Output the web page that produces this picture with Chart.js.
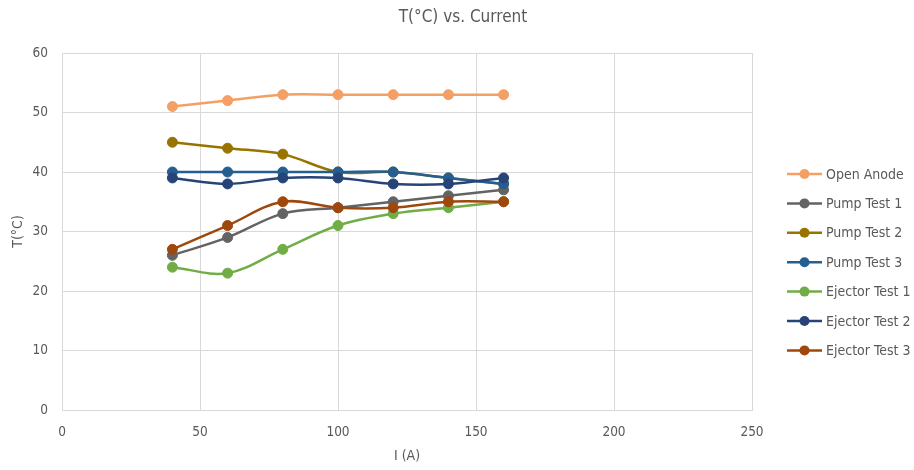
<!DOCTYPE html>
<html><head><meta charset="utf-8">
<script src="https://cdn.jsdelivr.net/npm/chart.js@4"></script>
<style>html,body{margin:0;padding:0;background:#fff}#wrap{width:914px;height:470px}</style>
</head><body><div id="wrap"><canvas id="c" width="914" height="470"></canvas></div>
<script>
const current = [40, 60, 80, 100, 120, 140, 160];
const openAnode   = [51, 52, 53, 53, 53, 53, 53];
const pumpTest1   = [26, 29, 33, 34, 35, 36, 37];
const pumpTest2   = [45, 44, 43, 40, 40, 39, 38];
const pumpTest3   = [40, 40, 40, 40, 40, 39, 38];
const ejectorTest1 = [24, 23, 27, 31, 33, 34, 35];
const ejectorTest2 = [39, 38, 39, 39, 38, 38, 39];
const ejectorTest3 = [27, 31, 35, 34, 34, 35, 35];
const seriesNames = ["Open Anode","Pump Test 1","Pump Test 2","Pump Test 3","Ejector Test 1","Ejector Test 2","Ejector Test 3"];
const seriesValues = [openAnode,pumpTest1,pumpTest2,pumpTest3,ejectorTest1,ejectorTest2,ejectorTest3];
const colors = ["#F4A064","#636363","#997300","#255E91","#70AD47","#264478","#9E480E"];
const FONT = "'DejaVu Sans Condensed', 'Liberation Sans', Arial, sans-serif";
const TXT = "#595959";

const datasets = seriesNames.map((n,i)=>({
  label:n,
  data: current.map((x,j)=>({x:x,y:seriesValues[i][j]})),
  borderColor: colors[i], backgroundColor: colors[i],
  pointBackgroundColor: colors[i], pointBorderColor: colors[i],
  pointRadius: 5, pointBorderWidth: 1, borderWidth: 2.5,
  tension: 0.35, showLine: true, fill:false,
  order: seriesNames.length - i
}));

const overlay = {
  id:'overlay',
  afterDraw(chart){
    const ctx = chart.ctx;
    ctx.save();
    ctx.fillStyle = TXT;
    ctx.font = "17px " + FONT;
    ctx.textAlign = "center"; ctx.textBaseline = "middle";
    ctx.fillText("T(°C) vs. Current", 463, 18);
    ctx.font = "14px " + FONT;
    ctx.textAlign = "left";
    seriesNames.forEach((n,i)=>{
      const y = 174 + i*29.4;
      ctx.strokeStyle = colors[i]; ctx.lineWidth = 2.5;
      ctx.beginPath(); ctx.moveTo(787,y); ctx.lineTo(822,y); ctx.stroke();
      ctx.fillStyle = colors[i];
      ctx.beginPath(); ctx.arc(804.5,y,5,0,Math.PI*2); ctx.fill();
      ctx.fillStyle = TXT;
      ctx.fillText(n, 826, y+1);
    });
    ctx.restore();
  }
};

new Chart(document.getElementById('c'), {
  type:'scatter',
  data:{datasets},
  options:{
    responsive:false, animation:false,
    layout:{padding:{top:53,right:162,left:0,bottom:0}},
    plugins:{legend:{display:false}, title:{display:false}, tooltip:{enabled:false}},
    scales:{
      x:{type:'linear', min:0, max:250,
        ticks:{stepSize:50, color:TXT, font:{family:FONT,size:13.5}, padding:14},
        grid:{color:'#D9D9D9', drawTicks:false, lineWidth:1},
        border:{color:'#D9D9D9'},
        title:{display:true, text:'I (A)', color:TXT, font:{family:FONT,size:14}, padding:{top:0,bottom:5}},
        afterFit(s){ s.height = 60; }
      },
      y:{min:0, max:60,
        ticks:{stepSize:10, color:TXT, font:{family:FONT,size:13.5}, padding:14},
        grid:{color:'#D9D9D9', drawTicks:false, lineWidth:1},
        border:{display:false},
        title:{display:true, text:'T(°C)', color:TXT, font:{family:FONT,size:14}, padding:{top:10,bottom:0}},
        afterFit(s){ s.width = 62; }
      }
    }
  },
  plugins:[overlay]
});
</script></body></html>
